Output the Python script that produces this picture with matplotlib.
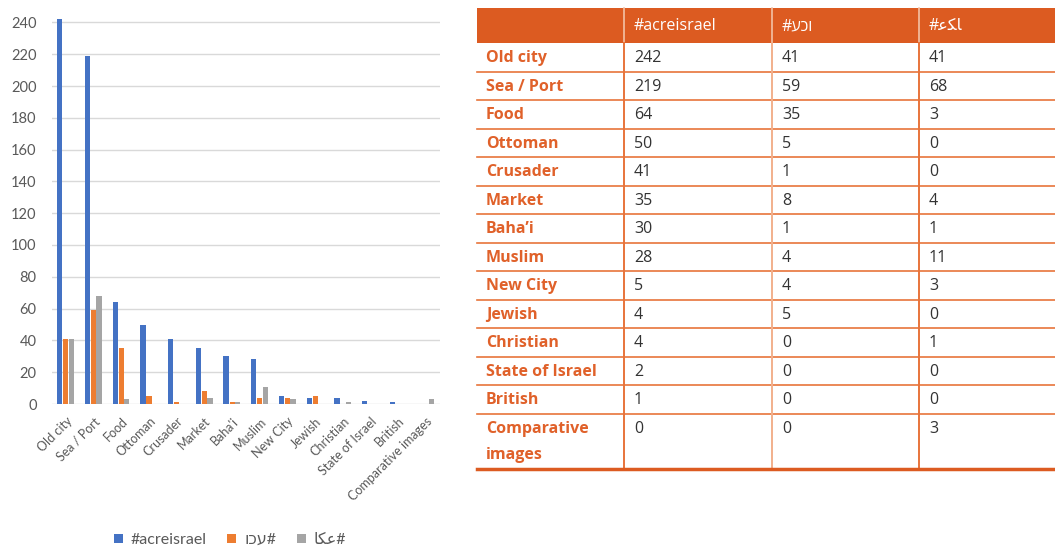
import matplotlib
matplotlib.use("Agg")
import matplotlib.pyplot as plt
import numpy as np

# Topic categories and counts per hashtag
categories = ["Old city", "Sea / Port", "Food", "Ottoman", "Crusader", "Market",
              "Baha'i", "Muslim", "New City", "Jewish", "Christian",
              "State of Israel", "British", "Comparative images"]
table_labels = ["Old city", "Sea / Port", "Food", "Ottoman", "Crusader", "Market",
                "Baha\u2019i", "Muslim", "New City", "Jewish", "Christian",
                "State of Israel", "British", "Comparative\nimages"]
acreisrael = [242, 219, 64, 50, 41, 35, 30, 28, 5, 4, 4, 2, 1, 0]
akko_he = [41, 59, 35, 5, 1, 8, 1, 4, 4, 5, 0, 0, 0, 0]
akka_ar = [41, 68, 3, 0, 0, 4, 1, 11, 3, 0, 1, 0, 0, 3]

header_labels = ["#acreisrael", "#\u05e2\u05db\u05d5", "#\ufecb\ufedc\ufe8e"]
legend_labels = ["#acreisrael", "\u05d5\u05db\u05e2#", "\ufe8e\ufedc\ufecb#"]
yticks = [0, 20, 40, 60, 80, 100, 120, 140, 160, 180, 200, 220, 240]

FONTS = ["Open Sans", "DejaVu Sans"]
CHART_FONTS = ["Lato", "DejaVu Sans"]
plt.rcParams["font.family"] = FONTS

W, H = 1055, 547
fig = plt.figure(figsize=(W / 100, H / 100), dpi=100)

# ---------------- bar chart ----------------
ax = fig.add_axes([52 / W, (H - 404) / H, 388 / W, 397.5 / H])
x = np.arange(len(categories))
bw = 0.19
colors = ["#4472C4", "#ED7D31", "#A5A5A5"]
ax.bar(x - 0.22, acreisrael, bw, color=colors[0], label=legend_labels[0], zorder=3)
ax.bar(x + 0.0, akko_he, bw, color=colors[1], label=legend_labels[1], zorder=3)
ax.bar(x + 0.2, akka_ar, bw, color=colors[2], label=legend_labels[2], zorder=3)

ax.set_xlim(-0.5, len(categories) - 0.5)
ax.set_ylim(0, 250)
ax.set_yticks(yticks)
ax.set_yticklabels([str(v) for v in yticks], fontsize=10.5, color="#595959",
                   family=CHART_FONTS)
ax.yaxis.grid(True, color="#D9D9D9", linewidth=1.0, zorder=0)
ax.set_axisbelow(True)
for s in ax.spines.values():
    s.set_visible(False)
ax.tick_params(axis="y", length=0, pad=11)
ax.set_xticks(x)
ax.set_xticklabels(categories, rotation=45, ha="right", va="top",
                   rotation_mode="anchor", fontsize=9, color="#595959",
                   family=CHART_FONTS)
ax.tick_params(axis="x", length=0, pad=8)

fig.legend(loc="center", bbox_to_anchor=(230 / W, 7 / H), ncol=3, frameon=False,
           prop={"family": CHART_FONTS, "size": 11.5}, handlelength=0.55,
           handleheight=0.55, handletextpad=0.5, columnspacing=1.3,
           labelcolor="#595959")

# ---------------- table ----------------
tax = fig.add_axes([0, 0, 1, 1])
tax.set_xlim(0, W)
tax.set_ylim(H, 0)
tax.axis("off")

col_x = [477, 624, 772, 919, 1055]
head_top, head_bot = 8, 43
row_h = 28.5
n = len(table_labels)
row_tops = [head_bot + i * row_h for i in range(n)]
table_bot = row_tops[-1] + 2 * row_h - 2

orange = "#DC5B21"
line_orange = "#E8743B"
line_light = "#F2B08C"

tax.add_patch(plt.Rectangle((col_x[0], head_top), col_x[-1] - col_x[0],
                            head_bot - head_top, color=orange, lw=0))
for cx in col_x[1:-1]:
    tax.plot([cx, cx], [head_top, head_bot], color="#F4C2A6", lw=1.2)
for j, lab in enumerate(header_labels):
    tax.text(col_x[j + 1] + 10, (head_top + head_bot) / 2 + 1, lab, color="white",
             fontsize=11.5, va="center", ha="left", family=FONTS)

series = [acreisrael, akko_he, akka_ar]
for i, lab in enumerate(table_labels):
    top = row_tops[i]
    last = i == n - 1
    if last:
        tax.text(col_x[0] + 9, top + row_h / 2 + 1, "Comparative", color="#E0612A",
                 fontsize=11.5, fontweight="bold", va="center", ha="left")
        tax.text(col_x[0] + 9, top + row_h * 1.5 - 1, "images", color="#E0612A",
                 fontsize=11.5, fontweight="bold", va="center", ha="left")
    else:
        tax.text(col_x[0] + 9, top + row_h / 2 + 1, lab, color="#E0612A",
                 fontsize=11.5, fontweight="bold", va="center", ha="left")
    for j, s in enumerate(series):
        tax.text(col_x[j + 1] + 10, top + row_h / 2 + 1, str(s[i]), color="#333333",
                 fontsize=11.5, va="center", ha="left")
    if i > 0:
        tax.plot([col_x[0], col_x[-1]], [top, top], color=line_orange, lw=1.2)

# vertical rules in the body
for k, cx in enumerate(col_x[1:-1]):
    tax.plot([cx, cx], [head_bot, table_bot], color=line_light if k == 1 else line_orange,
             lw=1.4)
tax.plot([col_x[0], col_x[-1]], [table_bot, table_bot], color=orange, lw=2.5)

fig.savefig("out.png", dpi=100)
